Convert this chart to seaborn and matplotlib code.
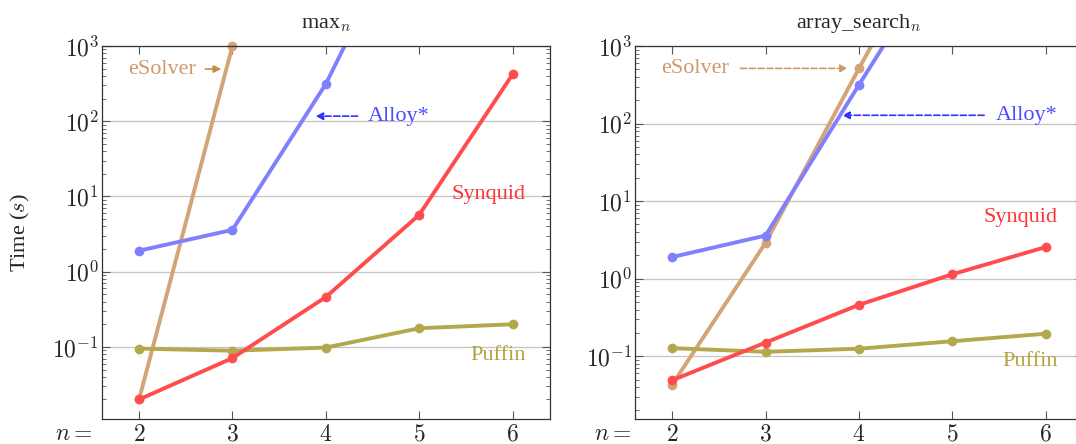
import numpy as np
import pandas as pd
import matplotlib
matplotlib.use("Agg")
import matplotlib.pyplot as plt
import matplotlib.ticker as mticker
import seaborn as sns

# x values (problem size n)
n_values = [2, 3, 4, 5, 6]
tools = ['eSolver', 'Alloy*', 'Puffin', 'Synquid']

# max_n timings in seconds (values above 1e3 run off the top of the chart)
max_esolver = [0.02, 1000]
max_alloy = [1.9, 3.6, 313, 1e5]
max_synquid = [0.02, 0.071, 0.46, 5.7, 420]
max_puffin = [0.095, 0.089, 0.098, 0.177, 0.2]

# array_search_n timings in seconds
arr_esolver = [0.043, 2.9, 515, 8e4]
arr_alloy = [1.9, 3.6, 316, 2.6e4]
arr_synquid = [0.049, 0.15, 0.46, 1.14, 2.56]
arr_puffin = [0.127, 0.114, 0.125, 0.156, 0.195]

line_colors = {'eSolver': '#d3a476', 'Alloy*': '#8080ff', 'Synquid': '#ff4d4d', 'Puffin': '#b3a84b'}
text_colors = {'eSolver': '#cf9a68', 'Alloy*': '#4d4dff', 'Synquid': '#ff3333', 'Puffin': '#b0a33f'}


def to_long(series):
    rows = []
    for tool, vals in series.items():
        for n, t in zip(n_values, vals):
            rows.append({'n': n, 'time': t, 'tool': tool})
    return pd.DataFrame(rows)


max_df = to_long({'eSolver': max_esolver, 'Alloy*': max_alloy, 'Puffin': max_puffin, 'Synquid': max_synquid})
arr_df = to_long({'eSolver': arr_esolver, 'Alloy*': arr_alloy, 'Puffin': arr_puffin, 'Synquid': arr_synquid})

sns.set_theme(style="ticks")
plt.rcParams['font.family'] = ['Liberation Serif', 'DejaVu Serif']
plt.rcParams['mathtext.fontset'] = 'cm'

fig = plt.figure(figsize=(10.76, 4.44), dpi=100)
ax1 = fig.add_axes([0.0945, 0.0563, 0.4166, 0.840])
ax2 = fig.add_axes([0.590, 0.0563, 0.4166, 0.840])


def style_axes(ax, ymin, title):
    ax.set_yscale('log')
    ax.set_xlim(1.6, 6.4)
    ax.set_ylim(ymin, 1000)
    ax.set_xticks(n_values)
    ax.set_xticklabels([f'${v}$' for v in n_values])
    ax.yaxis.set_major_locator(mticker.LogLocator(base=10, numticks=10))
    ax.yaxis.set_minor_locator(mticker.LogLocator(base=10, subs=range(2, 10), numticks=10))
    ax.yaxis.set_major_formatter(mticker.FuncFormatter(lambda v, p: r'$10^{%d}$' % round(np.log10(v))))
    ax.yaxis.set_minor_formatter(mticker.NullFormatter())
    ax.tick_params(which='both', direction='in', top=True, right=True, color='#555555')
    ax.tick_params(which='major', length=6, width=0.8, labelsize=17)
    ax.tick_params(which='minor', length=3, width=0.6)
    ax.tick_params(axis='y', pad=2)
    ax.tick_params(axis='x', pad=4)
    ax.grid(False)
    ax.grid(axis='y', which='major', color='#c4c4c4', lw=0.9)
    ax.set_axisbelow(True)
    for sp in ax.spines.values():
        sp.set_color('#333333')
        sp.set_linewidth(0.9)
    ax.set_xlabel('')
    ax.set_ylabel('')
    ax.set_title(title, fontsize=16, pad=13)


for ax, df in [(ax1, max_df), (ax2, arr_df)]:
    sns.lineplot(data=df, x='n', y='time', hue='tool', hue_order=tools, palette=line_colors,
                 marker='o', markersize=7, markeredgewidth=0, linewidth=2.8,
                 estimator=None, sort=False, legend=False, ax=ax)

style_axes(ax1, 0.011, r'max$_n$')
style_axes(ax2, 0.0155, r'array_search$_n$')

# the eSolver point at 1000 sits on the top border
ax1.lines[0].set_clip_on(False)

arrow_solid = dict(arrowstyle='-|>', lw=1.2, mutation_scale=11, shrinkA=0, shrinkB=0)

# left panel labels
ax1.text(2.25, 495, 'eSolver', color=text_colors['eSolver'], fontsize=16, ha='center', va='center')
ax1.annotate('', xy=(2.88, 495), xytext=(2.71, 495),
             arrowprops=dict(arrow_solid, color='#c98a4d'))
ax1.text(4.45, 117, 'Alloy*', color=text_colors['Alloy*'], fontsize=16, ha='left', va='center')
ax1.annotate('', xy=(3.89, 117), xytext=(4.34, 117),
             arrowprops=dict(arrow_solid, color='#3333ff', linestyle='--'))
ax1.text(6.14, 10.5, 'Synquid', color=text_colors['Synquid'], fontsize=16, ha='right', va='center')
ax1.text(6.14, 0.078, 'Puffin', color=text_colors['Puffin'], fontsize=16, ha='right', va='center')

# right panel labels
ax2.text(2.24, 515, 'eSolver', color=text_colors['eSolver'], fontsize=16, ha='center', va='center')
ax2.annotate('', xy=(3.88, 515), xytext=(2.73, 515),
             arrowprops=dict(arrow_solid, color='#d09a66', linestyle='--'))
ax2.text(6.13, 128, 'Alloy*', color=text_colors['Alloy*'], fontsize=16, ha='right', va='center')
ax2.annotate('', xy=(3.82, 128), xytext=(5.34, 128),
             arrowprops=dict(arrow_solid, color='#3333ff', linestyle='--'))
ax2.text(6.13, 6.1, 'Synquid', color=text_colors['Synquid'], fontsize=16, ha='right', va='center')
ax2.text(6.13, 0.085, 'Puffin', color=text_colors['Puffin'], fontsize=16, ha='right', va='center')

fig.text(0.0186, 0.477, r'Time ($s$)', rotation=90, fontsize=16, ha='center', va='center')
fig.text(0.0855, 0.022, r'$n=$', fontsize=17, ha='right', va='center')
fig.text(0.587, 0.022, r'$n=$', fontsize=17, ha='right', va='center')

plt.savefig('out.png', dpi=100)
